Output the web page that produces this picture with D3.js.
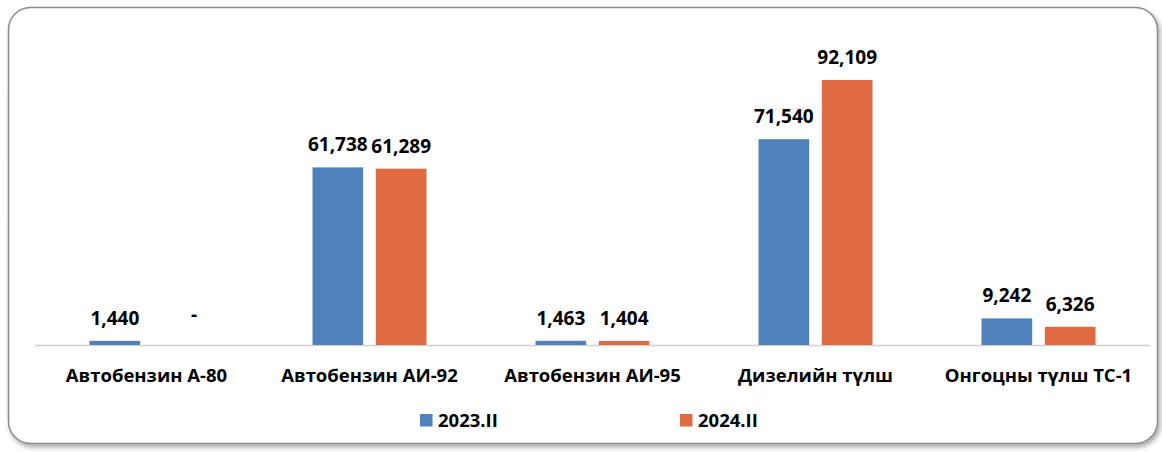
<!DOCTYPE html>
<html>
<head>
<meta charset="utf-8">
<script src="https://cdn.jsdelivr.net/npm/d3@7/dist/d3.min.js"></script>
<style>
  html, body { margin: 0; padding: 0; background: #ffffff; }
  svg { display: block; }
  text { font-family: "Open Sans", "Liberation Sans", sans-serif; font-weight: 700; fill: #000; }
</style>
</head>
<body>
<svg id="chart" width="1162" height="452"></svg>
<script>
const categories = ["Автобензин А-80", "Автобензин АИ-92", "Автобензин АИ-95", "Дизелийн түлш", "Онгоцны түлш ТС-1"];
const seriesNames = ["2023.II", "2024.II"];
const values2023 = [1440, 61738, 1463, 71540, 9242];
const values2024 = [0, 61289, 1404, 92109, 6326];
const colors = ["#4f81bd", "#e06b43"];

const svg = d3.select("#chart");

// frame with shadow
const defs = svg.append("defs");
const f = defs.append("filter").attr("id", "sh").attr("x", "-5%").attr("y", "-5%").attr("width", "110%").attr("height", "115%");
f.append("feDropShadow").attr("dx", 2).attr("dy", 3).attr("stdDeviation", 2.5).attr("flood-color", "#000").attr("flood-opacity", 0.35);
svg.append("rect")
  .attr("x", 8.5).attr("y", 7.5).attr("width", 1149).attr("height", 436)
  .attr("rx", 22).attr("ry", 22)
  .attr("fill", "#fff").attr("stroke", "#8a8a8a").attr("stroke-width", 1.5)
  .attr("filter", "url(#sh)");

const plot = { left: 35, right: 1150, base: 345 };
const x0 = d3.scaleBand().domain(categories).range([plot.left, plot.right]).paddingInner(0).paddingOuter(0);
const bw = x0.bandwidth();
const x1 = d3.scaleBand().domain(seriesNames).range([bw / 2 - 57, bw / 2 + 57]).paddingInner(0.2).paddingOuter(0);
const y = d3.scaleLinear().domain([0, 100000]).range([plot.base, plot.base - 287.7]);

const data = categories.map((c, i) => ({ cat: c, vals: [values2023[i], values2024[i]] }));

// baseline
svg.append("line")
  .attr("x1", plot.left).attr("x2", plot.right)
  .attr("y1", plot.base + 0.5).attr("y2", plot.base + 0.5)
  .attr("stroke", "#d0d0d0").attr("stroke-width", 1.5);

const g = svg.selectAll("g.cat").data(data).join("g").attr("class", "cat")
  .attr("transform", d => `translate(${x0(d.cat)},0)`);

g.selectAll("rect").data(d => d.vals.map((v, j) => ({ s: seriesNames[j], v, j })))
  .join("rect")
  .attr("x", d => x1(d.s))
  .attr("width", x1.bandwidth())
  .attr("y", d => y(d.v))
  .attr("height", d => plot.base - y(d.v))
  .attr("fill", d => colors[d.j]);

const fmt = d3.format(",");
g.selectAll("text.val").data(d => d.vals.map((v, j) => ({ s: seriesNames[j], v, j })))
  .join("text").attr("class", "val")
  .attr("x", d => x1(d.s) + x1.bandwidth() / 2 + (d.v === 0 ? 16 : 0))
  .attr("y", d => d.v === 0 ? y(d.v) - 24 : y(d.v) - 16)
  .attr("text-anchor", "middle")
  .style("font-size", "19px")
  .text(d => d.v === 0 ? "-" : fmt(d.v));

// category labels
svg.selectAll("text.cat").data(categories).join("text").attr("class", "cat")
  .attr("x", d => x0(d) + bw / 2)
  .attr("y", 382)
  .attr("text-anchor", "middle")
  .style("font-size", "18.5px")
  .text(d => d);

// legend
const legendX = [420, 680];
const lg = svg.selectAll("g.leg").data(seriesNames).join("g").attr("class", "leg")
  .attr("transform", (d, i) => `translate(${legendX[i]},0)`);
lg.append("rect").attr("x", 0).attr("y", 414).attr("width", 12.5).attr("height", 12.5)
  .attr("fill", (d, i) => colors[i]);
lg.append("text").attr("x", 18).attr("y", 427).style("font-size", "18.5px").text(d => d);
</script>
</body>
</html>
